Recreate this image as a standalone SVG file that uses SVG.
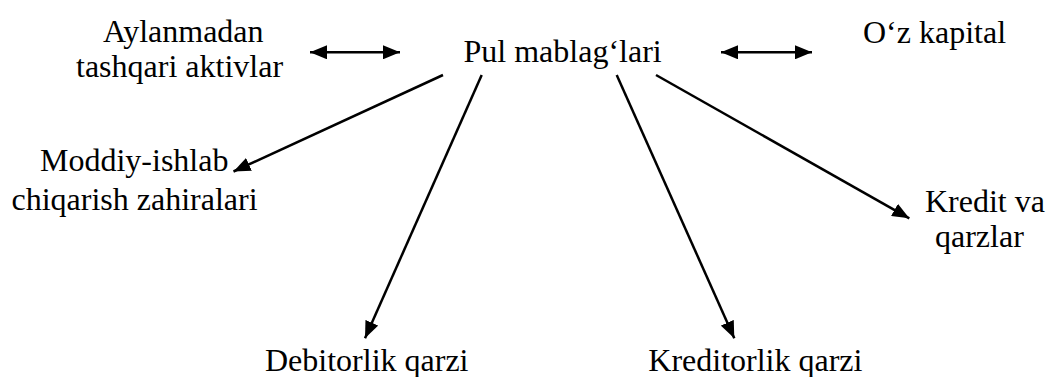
<svg xmlns="http://www.w3.org/2000/svg" width="1046" height="377" viewBox="0 0 1046 377">
<style>
text{font-family:"Liberation Serif","Times New Roman",serif;font-size:32px;fill:#000}
.c{stroke:#000;stroke-width:2.5;fill:none}
</style>
<defs>
<marker id="ah" markerUnits="userSpaceOnUse" markerWidth="18" markerHeight="14" refX="17" refY="7" orient="auto-start-reverse" viewBox="0 0 18 14">
<path d="M0,0 L17,7 L0,14 Z" fill="#000"/>
</marker>
</defs>
<rect width="1046" height="377" fill="#fff"/>
<g id="connectors">
<line class="c" x1="310" y1="52.3" x2="400" y2="52.3" marker-start="url(#ah)" marker-end="url(#ah)"/>
<line class="c" x1="721" y1="52.3" x2="812" y2="52.3" marker-start="url(#ah)" marker-end="url(#ah)"/>
<line class="c" x1="443" y1="75" x2="233.5" y2="171.5" marker-end="url(#ah)"/>
<line class="c" x1="481.7" y1="75" x2="365" y2="338.3" marker-end="url(#ah)"/>
<line class="c" x1="616.7" y1="75" x2="734.3" y2="338.3" marker-end="url(#ah)"/>
<line class="c" x1="656" y1="75" x2="909.3" y2="218.3" marker-end="url(#ah)"/>
</g>
<g id="aylanmadan">
<text x="103" y="41.5">Aylanmadan</text>
<text x="76" y="76.5">tashqari aktivlar</text>
</g>
<g id="pul"><text x="463.5" y="62">Pul mablag‘lari</text></g>
<g id="ozkapital"><text x="863" y="43">O‘z kapital</text></g>
<g id="moddiy">
<text x="40" y="171">Moddiy-ishlab</text>
<text x="11.5" y="210">chiqarish zahiralari</text>
</g>
<g id="kredit">
<text x="925" y="212">Kredit va</text>
<text x="935" y="247">qarzlar</text>
</g>
<g id="debitorlik"><text x="265" y="371">Debitorlik qarzi</text></g>
<g id="kreditorlik"><text x="648.3" y="370.7">Kreditorlik qarzi</text></g>
</svg>
